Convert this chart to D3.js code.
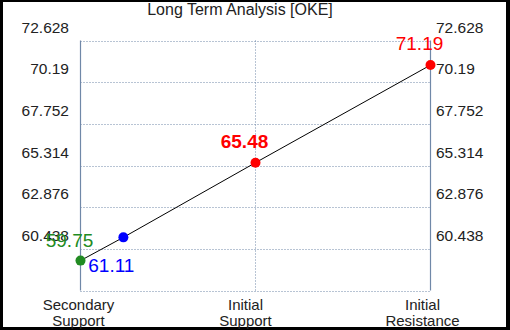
<!DOCTYPE html>
<meta charset="utf-8">
<head>
  <title>Long Term Analysis [OKE]</title>
</head>

<style>
body {
  margin: 0;
  background: #000;
}
text {
  font-family: Arial, "Liberation Sans", sans-serif;
}
</style>

<body>
  <svg width="510" height="330"></svg>

  <script src="https://cdnjs.cloudflare.com/ajax/libs/d3/7.8.5/d3.min.js"></script>

  <script>
  var title = 'Long Term Analysis [OKE]';
  var categories = [['Secondary', 'Support'], ['Initial', 'Support'], ['Initial', 'Resistance']];
  var yTicks = [60.438, 62.876, 65.314, 67.752, 70.19, 72.628];
  var yDomain = [58.0, 72.628];

  // points: position along the category axis, value, colour
  var pointPos = [0, 0.245, 1, 2];
  var pointValues = [59.75, 61.11, 65.48, 71.19];
  var pointColors = ['#228b22', '#0000ff', '#ff0000', '#ff0000'];

  var svg = d3.select('svg');

  svg.append('rect')
    .attr('x', 3).attr('y', 2)
    .attr('width', 503).attr('height', 325)
    .attr('fill', '#fff');

  var x = d3.scaleLinear().domain([0, 2]).range([80.5, 430.5]);
  var y = d3.scaleLinear().domain(yDomain).range([290.5, 40.5]);

  // horizontal grid
  svg.append('g')
    .selectAll('line')
    .data(yTicks.concat([yDomain[0]]))
    .enter()
    .append('line')
    .attr('x1', x(0)).attr('x2', x(2))
    .attr('y1', function(d) { return Math.round(y(d)) + 0.5; })
    .attr('y2', function(d) { return Math.round(y(d)) + 0.5; })
    .attr('stroke', '#7088a8')
    .attr('stroke-dasharray', '1,2');

  // vertical grid at middle category
  svg.append('line')
    .attr('x1', x(1)).attr('x2', x(1))
    .attr('y1', y(yDomain[1])).attr('y2', y(yDomain[0]))
    .attr('stroke', '#7088a8')
    .attr('stroke-dasharray', '1,2');

  // side axes
  [0, 2].forEach(function(i) {
    svg.append('line')
      .attr('x1', x(i)).attr('x2', x(i))
      .attr('y1', y(yDomain[1])).attr('y2', y(yDomain[0]))
      .attr('stroke', '#7088a8')
      .attr('stroke-width', 1.2);
  });

  // tick labels, drawn above their grid line
  svg.append('g')
    .selectAll('text.left')
    .data(yTicks)
    .enter()
    .append('text')
    .attr('x', 69)
    .attr('y', function(d) { return y(d) - 8; })
    .attr('text-anchor', 'end')
    .attr('font-size', 15.5)
    .attr('fill', '#222')
    .text(function(d) { return d; });

  svg.append('g')
    .selectAll('text.right')
    .data(yTicks)
    .enter()
    .append('text')
    .attr('x', 436)
    .attr('y', function(d) { return y(d) - 8; })
    .attr('font-size', 15.5)
    .attr('fill', '#222')
    .text(function(d) { return d; });

  // category labels
  var catShift = [-2, -10, -8];
  categories.forEach(function(c, i) {
    var t = svg.append('text')
      .attr('text-anchor', 'middle')
      .attr('font-size', 15)
      .attr('fill', '#222');
    c.forEach(function(line, j) {
      t.append('tspan')
        .attr('x', x(i) + catShift[i])
        .attr('y', 310 + j * 15.5)
        .text(line);
    });
  });

  svg.append('text')
    .attr('x', 240)
    .attr('y', 15)
    .attr('text-anchor', 'middle')
    .attr('font-size', 16)
    .attr('fill', '#222')
    .text(title);

  // connecting line
  var line = d3.line()
    .x(function(d, i) { return x(pointPos[i]); })
    .y(function(d) { return y(d); });

  svg.append('path')
    .datum(pointValues)
    .attr('d', line)
    .attr('fill', 'none')
    .attr('stroke', '#000')
    .attr('stroke-width', 1);

  svg.append('g')
    .selectAll('circle')
    .data(pointValues)
    .enter()
    .append('circle')
    .attr('cx', function(d, i) { return x(pointPos[i]); })
    .attr('cy', function(d) { return y(d); })
    .attr('r', 5)
    .attr('fill', function(d, i) { return pointColors[i]; });

  // value labels
  var labelDx = [-11, -12, -11, -11];
  var labelDy = [-14, 35, -15, -15];
  var labelWeight = ['normal', 'normal', 'bold', 'normal'];

  svg.append('g')
    .selectAll('text')
    .data(pointValues)
    .enter()
    .append('text')
    .attr('x', function(d, i) { return x(pointPos[i]) + labelDx[i]; })
    .attr('y', function(d, i) { return y(d) + labelDy[i]; })
    .attr('text-anchor', 'middle')
    .attr('font-size', 19)
    .attr('font-weight', function(d, i) { return labelWeight[i]; })
    .attr('fill', function(d, i) { return pointColors[i]; })
    .text(function(d) { return d.toFixed(2); });

  </script>
</body>
</html>
